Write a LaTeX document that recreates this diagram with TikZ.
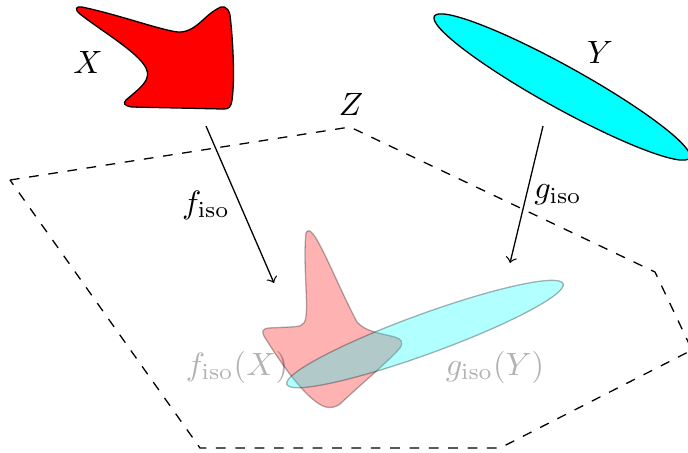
\documentclass[tikz,border=0pt]{standalone}
\definecolor{cyanrgb}{RGB}{0,255,255}
\definecolor{redrgb}{RGB}{255,0,0}
\begin{document}
\begin{tikzpicture}[x=0.31pt,y=-0.31pt,
  lbl/.style={inner sep=0pt},
  faint/.style={opacity=0.3},
  mapto/.style={->}]
\useasboundingbox (0,0) rectangle (688,452);
% plane Z
\draw[dashed] (10,180) -- (350,127) -- (655,272) -- (692,350) -- (500,448) -- (200,448) -- cycle;
\node[lbl] (Z) at (351,104) {$Z$};
% X
\filldraw[fill=redrgb,draw=black]
  (82,7) .. controls (120,15) and (160,30) .. (178,32)
  .. controls (195,33) and (205,15) .. (217,9)
  .. controls (222,5) and (228,6) .. (230,15)
  .. controls (233,40) and (235,80) .. (232,100)
  .. controls (231,107) and (229,109) .. (224,109)
  -- (132,107)
  .. controls (124,106) and (123,103) .. (126,100)
  .. controls (140,88) and (152,80) .. (146,68)
  .. controls (138,52) and (100,30) .. (80,14)
  .. controls (74,9) and (76,6) .. (82,7) -- cycle;
\node[lbl] (Xl) at (88,62) {$X$};
% Y
\filldraw[fill=cyanrgb,draw=black,rotate around={-29:(562,87)}] (562,87) ellipse [x radius=146, y radius=21];
\node[lbl] (Yl) at (600,52) {$Y$};
% images
\filldraw[fill=redrgb,faint]
  (306,233) .. controls (303,260) and (308,300) .. (306,316)
  .. controls (305,328) and (298,326) .. (290,327)
  -- (268,328)
  .. controls (262,329) and (262,332) .. (264,336)
  .. controls (280,362) and (305,398) .. (323,406)
  .. controls (330,409) and (336,407) .. (340,404)
  .. controls (360,385) and (390,360) .. (400,348)
  .. controls (404,342) and (401,339) .. (395,337)
  .. controls (380,333) and (366,332) .. (357,322)
  .. controls (340,290) and (320,240) .. (312,233)
  .. controls (310,230) and (307,230) .. (306,233) -- cycle;
\filldraw[fill=cyanrgb,faint,rotate around={20:(425,334)}] (425,334) ellipse [x radius=147, y radius=20];
\node[lbl,faint] (fX) at (237,367) {$f_{\mathrm{iso}}(X)$};
\node[lbl,faint] (gY) at (495,367) {$g_{\mathrm{iso}}(Y)$};
% maps
\coordinate (fs) at (206,126);
\coordinate (ft) at (274,283);
\coordinate (gs) at (543,126);
\coordinate (gt) at (510,263);
\draw[mapto] (fs) -- (ft);
\draw[mapto] (gs) -- (gt);
\node[lbl] (fl) at (206,205) {$f_{\mathrm{iso}}$};
\node[lbl] (gl) at (558,195) {$g_{\mathrm{iso}}$};
\end{tikzpicture}
\end{document}
